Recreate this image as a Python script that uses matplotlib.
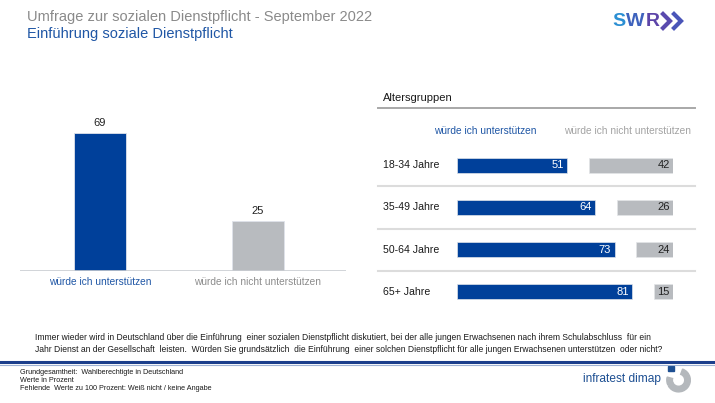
import matplotlib.pyplot as plt
import matplotlib.patches as mpatches
from matplotlib.lines import Line2D

plt.rcParams['font.family'] = ['Liberation Sans', 'DejaVu Sans']

# data
total_labels = ['würde ich unterstützen', 'würde ich nicht unterstützen']
total_values = [69, 25]

age_groups = ['18-34 Jahre', '35-49 Jahre', '50-64 Jahre', '65+ Jahre']
support = [51, 64, 73, 81]
oppose = [42, 26, 24, 15]

BLUE = '#00409a'
GREY = '#b8bbbf'
TXT_BLUE = '#1f56a5'
TXT_GREY = '#8c8c8c'

W, H = 715, 403
fig = plt.figure(figsize=(W / 100, H / 100), dpi=100)


def box(x0, y0, x1, y1):
    # pixel box (top-left origin) -> figure fraction rect
    return [x0 / W, 1 - y1 / H, (x1 - x0) / W, (y1 - y0) / H]


def ftext(x, y, s, **kw):
    fig.text(x / W, 1 - y / H, s, **kw)


def fline(x0, x1, y, **kw):
    fig.add_artist(Line2D([x0 / W, x1 / W], [1 - y / H, 1 - y / H], transform=fig.transFigure, **kw))


# header
ftext(27, 17, 'Umfrage zur sozialen Dienstpflicht - September 2022', fontsize=10.5,
      color='#8a8a8a', va='center', ha='left')
ftext(27, 34, 'Einführung soziale Dienstpflicht', fontsize=10.5, color=TXT_BLUE,
      va='center', ha='left')

# SWR logo
ftext(612, 21, 'S', fontsize=14, fontweight='bold', color='#2b8fd3', va='center', ha='left')
ftext(626, 21, 'W', fontsize=14, fontweight='bold', color='#3e62bd', va='center', ha='left')
ftext(646, 21, 'R', fontsize=14, fontweight='bold', color='#5d45a8', va='center', ha='left')
for x0, c in [(663, '#5a4aae'), (674, '#4a55b8')]:
    fig.add_artist(Line2D([x0 / W, (x0 + 7) / W, x0 / W],
                          [1 - 14 / H, 1 - 21 / H, 1 - 28 / H],
                          transform=fig.transFigure, color=c, lw=3.0,
                          solid_joinstyle='miter'))

# left chart: overall
ax1 = fig.add_axes(box(20, 71, 346, 271))
x = list(range(len(total_values)))
ax1.bar(x, total_values, width=0.33, color=[BLUE, GREY], edgecolor='#dfe3ea', linewidth=0.6)
for xi, v in zip(x, total_values):
    ax1.text(xi, v + 2.5, str(v), ha='center', va='bottom', fontsize=8, color='#222222')
ax1.set_xlim(-0.506, 1.557)
ax1.set_ylim(0, 100)
ax1.axhline(0, color='#c9cdd2', lw=1.2)
for s in ax1.spines.values():
    s.set_visible(False)
ax1.set_xticks(x)
ax1.set_xticklabels(total_labels, fontsize=7.3)
for lbl, c in zip(ax1.get_xticklabels(), [TXT_BLUE, TXT_GREY]):
    lbl.set_color(c)
ax1.tick_params(axis='x', length=0, pad=4)
ax1.set_yticks([])

# right chart: age groups
ftext(383, 98, 'Altersgruppen', fontsize=8, color='#1a1a1a', va='center', ha='left')
fline(378, 695, 108, color='#a8a8a8', lw=1.4)
ftext(485, 131, 'würde ich unterstützen', fontsize=7.3, color=TXT_BLUE, va='center', ha='center')
ftext(628, 131, 'würde ich nicht unterstützen', fontsize=7.3, color='#a3a3a3', va='center', ha='center')

ax2 = fig.add_axes(box(457, 144, 673, 313))
gap = 10
y = list(range(len(age_groups)))
ax2.barh(y, support, height=0.36, color=BLUE, edgecolor='#dfe3ea', linewidth=0.5)
starts = [s + gap for s in support]
ax2.barh(y, oppose, left=starts, height=0.36, color=GREY, edgecolor='#e3e5e8', linewidth=0.5)
ax2.set_xlim(0, 100)
ax2.set_ylim(len(age_groups) - 0.5, -0.5)
for yi, s, o, g in zip(y, support, oppose, age_groups):
    ax2.text(s - 1.6, yi, str(s), ha='right', va='center', fontsize=8, color='white')
    ax2.text(98.5, yi, str(o), ha='right', va='center', fontsize=8, color='#222222')
    ax2.text(-34.3, yi, g, ha='left', va='center', fontsize=7.6, color='#1a1a1a', clip_on=False)
for yi in y[:-1]:
    ax2.axhline(yi + 0.5, xmin=-0.366, xmax=1.10, color='#dcdcdc', lw=1.5, clip_on=False)
ax2.axis('off')

# question text
q1 = ('Immer wieder wird in Deutschland über die Einführung  einer sozialen Dienstpflicht diskutiert, '
      'bei der alle jungen Erwachsenen nach ihrem Schulabschluss  für ein')
q2 = ('Jahr Dienst an der Gesellschaft  leisten.  Würden Sie grundsätzlich  die Einführung  einer solchen '
      'Dienstpflicht für alle jungen Erwachsenen unterstützen  oder nicht?')
ftext(35, 337, q1, fontsize=6.15, color='#1a1a1a', va='center', ha='left')
ftext(35, 349, q2, fontsize=6.15, color='#1a1a1a', va='center', ha='left')

fline(0, 715, 362, color='#1c3f8c', lw=2.2)
fline(0, 715, 364.5, color='#9fb2d4', lw=0.8)

# footnotes
notes = ['Grundgesamtheit:  Wahlberechtigte in Deutschland', 'Werte in Prozent',
         'Fehlende  Werte zu 100 Prozent: Weiß nicht / keine Angabe']
for i, n in enumerate(notes):
    ftext(20, 372 + 8 * i, n, fontsize=5.2, color='#1a1a1a', va='center', ha='left')

# infratest dimap logo
ftext(583, 379, 'infratest dimap', fontsize=8.6, color='#1d4f92', va='center', ha='left')
lax = fig.add_axes(box(664, 365, 692, 393))
lax.set_xlim(0, 1)
lax.set_ylim(0, 1)
lax.set_aspect('equal')
lax.axis('off')
lax.add_patch(mpatches.Wedge((0.52, 0.46), 0.42, -150, 70, width=0.2, color='#b4b8bc'))
lax.add_patch(mpatches.Wedge((0.52, 0.46), 0.42, 165, 205, width=0.2, color='#b4b8bc'))
lax.add_patch(mpatches.Rectangle((0.14, 0.78), 0.2, 0.2, color='#1d4f92'))

fig.savefig('out.png', dpi=100)
